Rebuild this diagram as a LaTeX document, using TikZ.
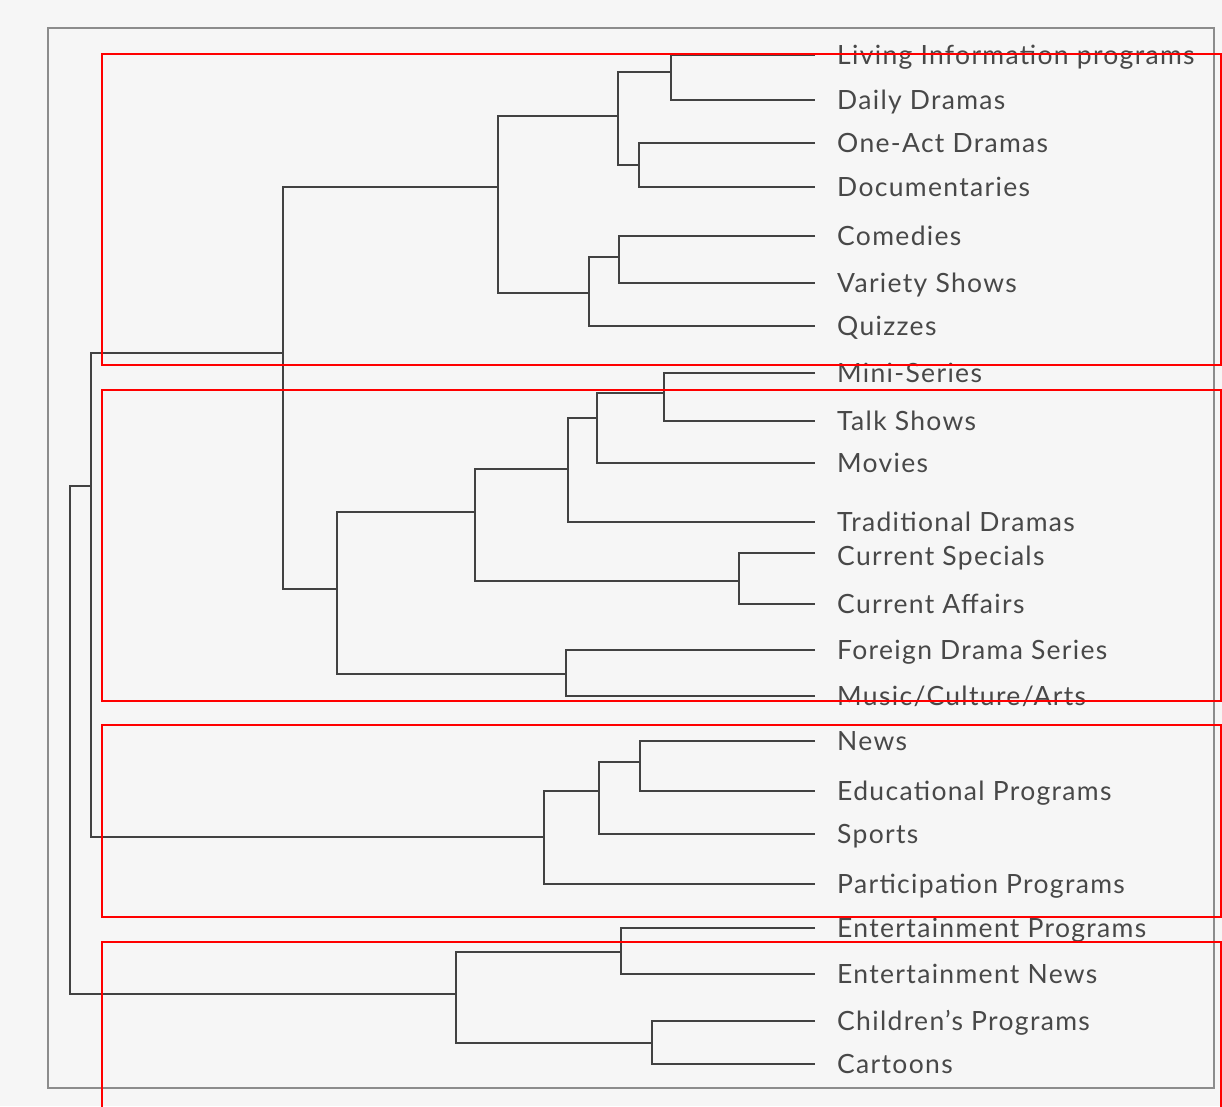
\documentclass[tikz,border=0pt]{standalone}
\usepackage{fontspec}
\setmainfont{Lato}
\newfontfamily\leaffont[LetterSpace=5.0]{Lato}
\definecolor{bggray}{RGB}{246,246,246}
\definecolor{txtgray}{RGB}{72,72,72}
\definecolor{linegray}{RGB}{66,66,66}
\definecolor{framegray}{RGB}{140,140,140}
\begin{document}
\begin{tikzpicture}[x=1pt,y=-1pt,
  leaf/.style={anchor=base west, inner sep=0pt, text=txtgray, font=\leaffont\fontsize{26.5}{30}\selectfont},
  branch/.style={draw=linegray, line width=2.5pt, line join=miter},
  frame/.style={draw=framegray, line width=1.8pt},
  cluster/.style={draw=red, line width=2.5pt}]
\useasboundingbox (0,0) rectangle (1222,1106);
\fill[bggray] (0,0) rectangle (1222,1106);
\draw[frame] (48,28) rectangle (1214,1088);

% leaf ends
\coordinate (e1) at (815,55);
\coordinate (e2) at (815,100);
\coordinate (e3) at (815,143);
\coordinate (e4) at (815,187);
\coordinate (e5) at (815,236);
\coordinate (e6) at (815,283);
\coordinate (e7) at (815,326);
\coordinate (e8) at (815,373);
\coordinate (e9) at (815,421);
\coordinate (e10) at (815,463);
\coordinate (e11) at (815,522);
\coordinate (e12) at (815,553);
\coordinate (e13) at (815,604);
\coordinate (e14) at (815,650);
\coordinate (e15) at (815,696);
\coordinate (e16) at (815,741);
\coordinate (e17) at (815,791);
\coordinate (e18) at (815,834);
\coordinate (e19) at (815,884);
\coordinate (e20) at (815,928);
\coordinate (e21) at (815,974);
\coordinate (e22) at (815,1021);
\coordinate (e23) at (815,1064);

% labels
\path (e1) ++(22,9.5) node[leaf] (t1) {Living Information programs};
\path (e2) ++(22,9.5) node[leaf] (t2) {Daily Dramas};
\path (e3) ++(22,9.5) node[leaf] (t3) {One-Act Dramas};
\path (e4) ++(22,9.5) node[leaf] (t4) {Documentaries};
\path (e5) ++(22,9.5) node[leaf] (t5) {Comedies};
\path (e6) ++(22,9.5) node[leaf] (t6) {Variety Shows};
\path (e7) ++(22,9.5) node[leaf] (t7) {Quizzes};
\path (e8) ++(22,9.5) node[leaf] (t8) {Mini-Series};
\path (e9) ++(22,9.5) node[leaf] (t9) {Talk Shows};
\path (e10) ++(22,9.5) node[leaf] (t10) {Movies};
\path (e11) ++(22,9.5) node[leaf] (t11) {Traditional Dramas};
\path (e12) ++(22,12) node[leaf] (t12) {Current Specials};
\path (e13) ++(22,9.5) node[leaf] (t13) {Current Affairs};
\path (e14) ++(22,9.5) node[leaf] (t14) {Foreign Drama Series};
\path (e15) ++(22,9.5) node[leaf] (t15) {Music/Culture/Arts};
\path (e16) ++(22,9.5) node[leaf] (t16) {News};
\path (e17) ++(22,9.5) node[leaf] (t17) {Educational Programs};
\path (e18) ++(22,9.5) node[leaf] (t18) {Sports};
\path (e19) ++(22,9.5) node[leaf] (t19) {Participation Programs};
\path (e20) ++(22,9.5) node[leaf] (t20) {Entertainment Programs};
\path (e21) ++(22,9.5) node[leaf] (t21) {Entertainment News};
\path (e22) ++(22,9.5) node[leaf] (t22) {Children’s Programs};
\path (e23) ++(22,9.5) node[leaf] (t23) {Cartoons};

% merge points
\coordinate (A) at (671,72);
\coordinate (B) at (639,165);
\coordinate (C) at (618,116);
\coordinate (D) at (619,257);
\coordinate (E) at (589,293);
\coordinate (F) at (498,187);
\coordinate (I1) at (664,393);
\coordinate (I2) at (597,418);
\coordinate (I3) at (568,469);
\coordinate (J) at (739,581);
\coordinate (K) at (475,512);
\coordinate (L) at (566,674);
\coordinate (M) at (337,589);
\coordinate (G) at (283,353);
\coordinate (N1) at (640,762);
\coordinate (N2) at (599,791);
\coordinate (N3) at (544,837);
\coordinate (H) at (91,486);
\coordinate (P1) at (621,952);
\coordinate (P2) at (652,1043);
\coordinate (P3) at (456,994);
\coordinate (R) at (70,740);

% branches
\draw[branch] (e1) -| (A) |- (e2);
\draw[branch] (e3) -| (B) |- (e4);
\draw[branch] (A) -| (C) |- (B);
\draw[branch] (e5) -| (D) |- (e6);
\draw[branch] (D) -| (E) |- (e7);
\draw[branch] (C) -| (F) |- (E);
\draw[branch] (e8) -| (I1) |- (e9);
\draw[branch] (I1) -| (I2) |- (e10);
\draw[branch] (I2) -| (I3) |- (e11);
\draw[branch] (e12) -| (J) |- (e13);
\draw[branch] (I3) -| (K) |- (J);
\draw[branch] (e14) -| (L) |- (e15);
\draw[branch] (K) -| (M) |- (L);
\draw[branch] (F) -| (G) |- (M);
\draw[branch] (e16) -| (N1) |- (e17);
\draw[branch] (N1) -| (N2) |- (e18);
\draw[branch] (N2) -| (N3) |- (e19);
\draw[branch] (G) -| (H) |- (N3);
\draw[branch] (e20) -| (P1) |- (e21);
\draw[branch] (e22) -| (P2) |- (e23);
\draw[branch] (P1) -| (P3) |- (P2);
\draw[branch] (H) -| (R) |- (P3);

% cluster boxes
\draw[cluster] (102,54) rectangle (1221,365);
\draw[cluster] (102,390) rectangle (1221,701);
\draw[cluster] (102,725) rectangle (1221,917);
\draw[cluster] (102,942) rectangle (1221,1130);
\end{tikzpicture}
\end{document}
